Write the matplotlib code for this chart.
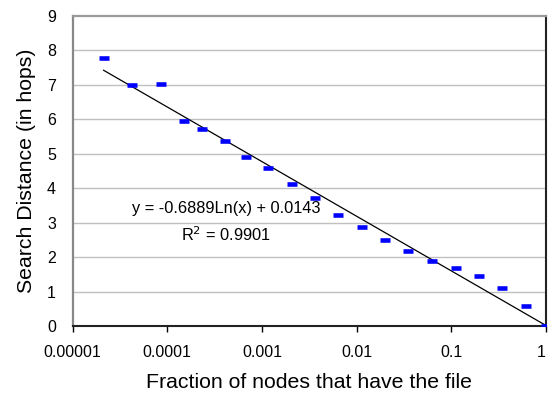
import matplotlib

matplotlib.use("Agg")

import matplotlib.pyplot as plt
import numpy as np

plt.rcParams["font.family"] = ["Liberation Sans", "DejaVu Sans"]

# fraction of nodes holding the file vs. measured search distance
fraction = [2.13e-5, 4.25e-5, 8.5e-5, 1.49e-4, 2.35e-4, 4.04e-4, 6.84e-4,
            1.17e-3, 2.06e-3, 3.64e-3, 6.41e-3, 0.0113, 0.0200, 0.0351,
            0.0619, 0.111, 0.196, 0.346, 0.610, 1.0]
hops = [7.78, 7.01, 7.03, 5.95, 5.72, 5.37, 4.92, 4.59, 4.13, 3.73,
        3.22, 2.86, 2.51, 2.18, 1.90, 1.67, 1.44, 1.11, 0.58, 0.0]

# log trendline as reported on the chart
fit_a = -0.6889
fit_b = 0.0143
fit_r2 = 0.9901

x_ticks = [1e-5, 1e-4, 1e-3, 1e-2, 1e-1, 1]
x_tick_labels = ["0.00001", "0.0001", "0.001", "0.01", "0.1", "1"]
y_ticks = list(range(0, 10))

fig = plt.figure(figsize=(5.48, 3.97), dpi=100)
ax = fig.add_axes([72.5 / 548, 71 / 397, (546 - 72.5) / 548, (326 - 16) / 397])

ax.set_xscale("log")
ax.set_xlim(1e-5, 1)
ax.set_ylim(0, 9)

for y in y_ticks[1:-1]:
    ax.axhline(y, color="#c0c0c0", lw=1.0, zorder=0)

xs = np.logspace(np.log10(fraction[0]), 0, 200)
ax.plot(xs, fit_a * np.log(xs) + fit_b, color="black", lw=0.9, zorder=2)

ax.plot(fraction, hops, linestyle="none", marker="_", markersize=6.5,
        markeredgewidth=3.3, color="#0000ff", zorder=3)

ax.text(4.27e-5, 3.42, f"y = {fit_a}Ln(x) + {fit_b}",
        fontsize=11.8, va="center", ha="left")
ax.text(4.18e-4, 2.66, "R$^2$ = " + f"{fit_r2}", fontsize=11.8,
        va="center", ha="center")

ax.set_xticks(x_ticks)
ax.set_xticklabels(x_tick_labels)
ax.get_xticklabels()[-1].set_horizontalalignment("right")
ax.xaxis.set_minor_locator(matplotlib.ticker.NullLocator())
ax.set_yticks(y_ticks)
ax.tick_params(axis="x", direction="out", length=4, width=1, pad=10,
               labelsize=11.5)
ax.tick_params(axis="y", length=0, pad=12, labelsize=11.5)

ax.spines["left"].set_color("#888888")
ax.spines["top"].set_color("#999999")
ax.spines["left"].set_linewidth(1.6)
ax.spines["top"].set_linewidth(1.6)
ax.spines["right"].set_color("#222222")
ax.spines["bottom"].set_color("#222222")
ax.spines["right"].set_linewidth(1.5)
ax.spines["bottom"].set_linewidth(1.5)

ax.set_xlabel("Fraction of nodes that have the file", fontsize=15.3,
              labelpad=9)
ax.set_ylabel("Search Distance (in hops)", fontsize=15.3, labelpad=8)

fig.savefig("out.png", dpi=100)
